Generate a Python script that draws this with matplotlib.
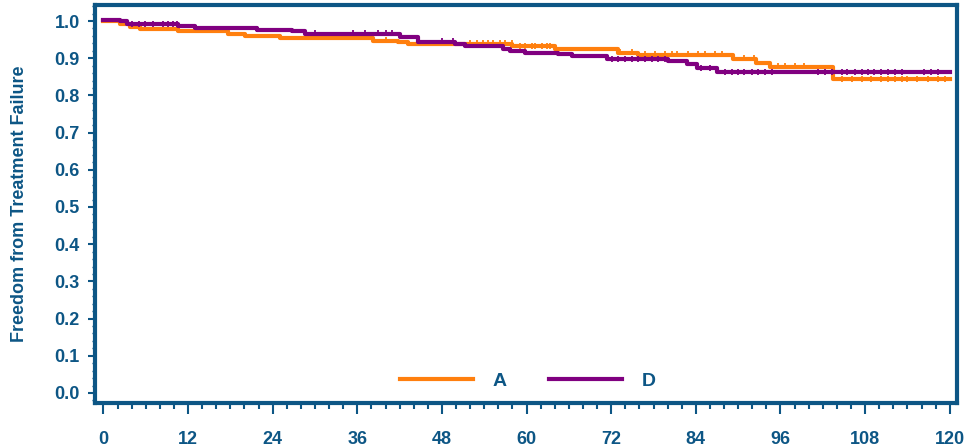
"""Kaplan-Meier style freedom from treatment failure, arms A vs D."""
import matplotlib
matplotlib.use("Agg")
import matplotlib.pyplot as plt
from matplotlib.ticker import MultipleLocator

# step curves: (time of drop, survival after drop)
a_times = [0, 2.4, 3.8, 5.2, 10.6, 17.7, 20.1, 25.0, 38.2, 41.8, 43.2,
           58.0, 64.0, 73.0, 75.8, 89.2, 92.6, 94.5, 103.5, 120]
a_surv = [1.0, 0.992, 0.985, 0.979, 0.972, 0.965, 0.959, 0.953, 0.947, 0.943, 0.939,
          0.932, 0.925, 0.914, 0.908, 0.899, 0.887, 0.877, 0.843, 0.843]

d_times = [0, 2.4, 3.4, 10.6, 13.0, 21.8, 26.8, 28.6, 42.0, 44.6, 49.9,
           51.3, 56.7, 57.6, 59.8, 64.4, 66.4, 71.4, 80.0, 82.7, 84.1, 87.0, 120]
d_surv = [1.003, 0.999, 0.991, 0.986, 0.981, 0.977, 0.972, 0.965, 0.958, 0.943, 0.938,
          0.933, 0.926, 0.920, 0.915, 0.911, 0.905, 0.897, 0.893, 0.884, 0.873, 0.862, 0.862]

# censor marks
a_cens = [40.0, 52.0, 53.0, 53.8, 54.5, 55.2, 56.2, 56.9, 57.9, 59.1, 59.8, 60.8,
          61.2, 62.2, 62.9, 63.3, 73.2, 75.0, 76.8, 78.2, 79.6, 80.6, 81.3, 82.9,
          84.3, 85.3, 86.7, 87.7, 90.9, 92.3, 95.6, 96.6, 98.0, 99.4, 104.7, 106.1,
          107.5, 108.9, 110.3, 111.2, 112.2, 113.2, 114.0, 115.4, 116.9, 118.3, 119.3]
d_cens = [4.1, 5.0, 5.9, 7.1, 8.4, 9.1, 9.8, 10.5, 21.8, 30.0, 35.4, 37.1, 39.0,
          40.0, 40.9, 48.0, 49.6, 72.1, 72.9, 73.9, 74.9, 75.8, 76.8, 77.8, 78.6,
          79.6, 84.8, 86.0, 88.1, 89.1, 90.0, 90.9, 91.9, 92.8, 93.8, 94.8, 101.3,
          102.3, 103.3, 104.7, 105.5, 106.5, 107.5, 108.4, 109.3, 110.3, 111.2,
          112.2, 113.2, 116.4, 117.4, 118.3]

ORANGE = "#FF7F0E"
PURPLE = "#800080"
BLUE = "#0D5685"


def surv_at(times, surv, t):
    val = surv[0]
    for ti, si in zip(times, surv):
        if ti <= t:
            val = si
    return val


plt.rcParams["font.family"] = ["Liberation Sans", "DejaVu Sans"]
plt.rcParams["font.weight"] = "bold"

fig = plt.figure(figsize=(9.64, 4.48), dpi=100)
ax = fig.add_axes([0.0985, 0.1004, 0.894, 0.8884])

for times, surv, cens, col, lab in [(a_times, a_surv, a_cens, ORANGE, "A"),
                                    (d_times, d_surv, d_cens, PURPLE, "D")]:
    ax.step(times, surv, where="post", color=col, lw=3, label=lab)
    ax.plot(cens, [surv_at(times, surv, c) + 0.002 for c in cens], ls="none",
            marker="|", ms=5, mew=1.3, color=col)

ax.set_xlim(-1.2, 121)
ax.set_ylim(-0.027, 1.043)
ax.xaxis.set_major_locator(MultipleLocator(12))
ax.xaxis.set_minor_locator(MultipleLocator(2))
ax.yaxis.set_major_locator(MultipleLocator(0.1))
ax.yaxis.set_minor_locator(MultipleLocator(0.02))
ax.yaxis.set_major_formatter(plt.FormatStrFormatter("%.1f"))

for s in ax.spines.values():
    s.set_color(BLUE)
    s.set_linewidth(3)
ax.tick_params(axis="both", which="major", colors=BLUE, labelsize=13, width=1.5)
ax.tick_params(axis="x", which="major", length=8, pad=12)
ax.tick_params(axis="x", which="minor", length=4, width=1.5, color=BLUE)
ax.tick_params(axis="y", which="major", length=5, pad=6)
ax.tick_params(axis="y", which="minor", length=2, width=1, color=BLUE)
for lbl in ax.get_xticklabels() + ax.get_yticklabels():
    lbl.set_fontweight("bold")

ax.set_ylabel("Freedom from Treatment Failure", color=BLUE, fontsize=13,
              fontweight="bold", labelpad=19)

leg = ax.legend(loc="lower center", bbox_to_anchor=(0.502, -0.012), ncol=2,
                frameon=False, handlelength=3.75, columnspacing=2.2,
                handletextpad=1.0, fontsize=14)
for t in leg.get_texts():
    t.set_color(BLUE)
    t.set_fontweight("bold")

fig.savefig("out.png", dpi=100)
